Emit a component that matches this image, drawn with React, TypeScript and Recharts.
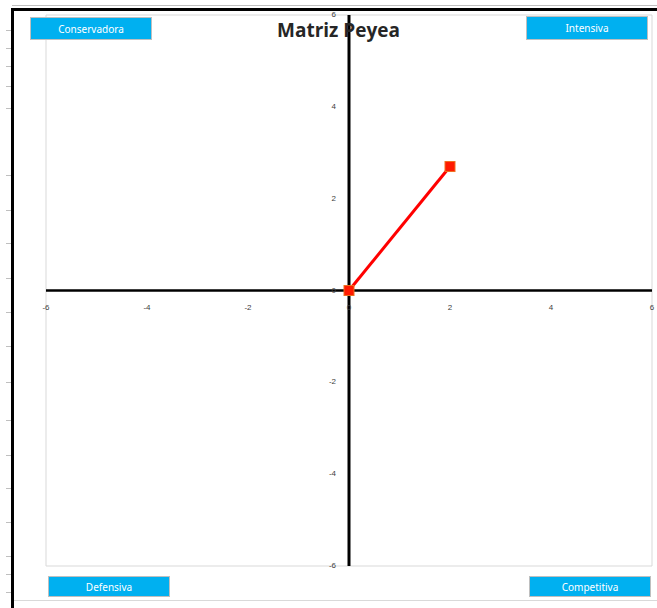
import React from "react";
import {
  CartesianGrid,
  ReferenceLine,
  Scatter,
  ScatterChart,
  XAxis,
  YAxis,
} from "recharts";

const xTicks = [-6, -4, -2, 0, 2, 4, 6];
const yTicks = [-6, -4, -2, 0, 2, 4, 6];
const peyeaX = [0, 2];
const peyeaY = [0, 2.7];

const points = peyeaX.map((x, i) => ({ x, y: peyeaY[i] }));
const xLabelData = xTicks.map((t) => ({ x: t, y: 0, label: t }));
const yLabelData = yTicks.map((t) => ({ x: 0, y: t, label: t }));

const tickStyle = { fontSize: 8, fill: "#404040", fontFamily: "Liberation Sans, sans-serif" };

function Quadrant({ text, left, top, width, height }: { text: string; left: number; top: number; width: number; height: number }) {
  return (
    <div
      style={{
        position: "absolute",
        left,
        top,
        width,
        height,
        boxSizing: "border-box",
        background: "#00b0f0",
        border: "1px solid #bfbfbf",
        color: "#ffffff",
        fontFamily: "'Noto Sans', sans-serif",
        fontSize: 10,
        display: "flex",
        alignItems: "center",
        justifyContent: "center",
      }}
    >
      {text}
    </div>
  );
}

export default function App() {
  const frameTicks = [30, 48, 66, 86, 108, 175, 210, 243, 278, 312, 346, 382, 420, 455, 488, 522, 556, 574, 592];
  return (
    <div style={{ position: "absolute", left: 0, top: 0, width: 657, height: 608, background: "#fff", overflow: "hidden" }}>
      {/* sheet frame */}
      <div style={{ position: "absolute", left: 12, top: 5, right: 0, height: 1, background: "#bfbfbf" }} />
      <div style={{ position: "absolute", left: 12, top: 8, right: 0, height: 3, background: "#000" }} />
      <div style={{ position: "absolute", left: 11, top: 8, width: 3, bottom: 0, background: "#000" }} />
      <div style={{ position: "absolute", left: 14, top: 600, right: 0, height: 1, background: "#d9d9d9" }} />
      {frameTicks.map((t) => (
        <div key={t} style={{ position: "absolute", left: 6, top: t, width: 5, height: 1, background: "#bfbfbf" }} />
      ))}

      <div style={{ position: "absolute", left: 0, top: 0 }}>
        <ScatterChart width={657} height={608} margin={{ top: 15, right: 5, bottom: 42, left: 46 }}>
          <CartesianGrid stroke="#d9d9d9" strokeWidth={1} />
          <XAxis type="number" dataKey="x" domain={[-6, 6]} ticks={xTicks} height={0} axisLine={false} tickLine={false} tick={false} />
          <YAxis type="number" dataKey="y" domain={[-6, 6]} ticks={yTicks} width={0} axisLine={false} tickLine={false} tick={false} />
          <ReferenceLine y={0} stroke="#000" strokeWidth={2.5} />
          <ReferenceLine x={0} stroke="#000" strokeWidth={3} />
          <Scatter
            data={xLabelData}
            isAnimationActive={false}
            shape={(p: any) => (
              <text x={p.cx} y={p.cy + 19} textAnchor="middle" {...tickStyle}>
                {p.payload.label}
              </text>
            )}
          />
          <Scatter
            data={yLabelData}
            isAnimationActive={false}
            shape={(p: any) => (
              <text x={p.cx - 13} y={p.cy + 2} textAnchor="end" {...tickStyle}>
                {p.payload.label}
              </text>
            )}
          />
          <Scatter
            data={points}
            isAnimationActive={false}
            line={{ stroke: "#ff0000", strokeWidth: 3 }}
            lineType="joint"
            shape={(p: any) => (
              <rect x={p.cx - 5} y={p.cy - 5} width={10} height={10} fill="#ff1a00" stroke="#f07020" strokeWidth={1} />
            )}
          />
        </ScatterChart>
      </div>

      <div
        style={{
          position: "absolute",
          left: 277,
          top: 21,
          lineHeight: "19px",
          fontFamily: "'Open Sans', sans-serif",
          fontWeight: 700,
          fontSize: 19,
          color: "#262626",
        }}
      >
        Matriz Peyea
      </div>

      <Quadrant text="Conservadora" left={30} top={17} width={122} height={23} />
      <Quadrant text="Intensiva" left={526} top={16} width={122} height={24} />
      <Quadrant text="Defensiva" left={48} top={576} width={122} height={21} />
      <Quadrant text="Competitiva" left={529} top={576} width={122} height={21} />
    </div>
  );
}
